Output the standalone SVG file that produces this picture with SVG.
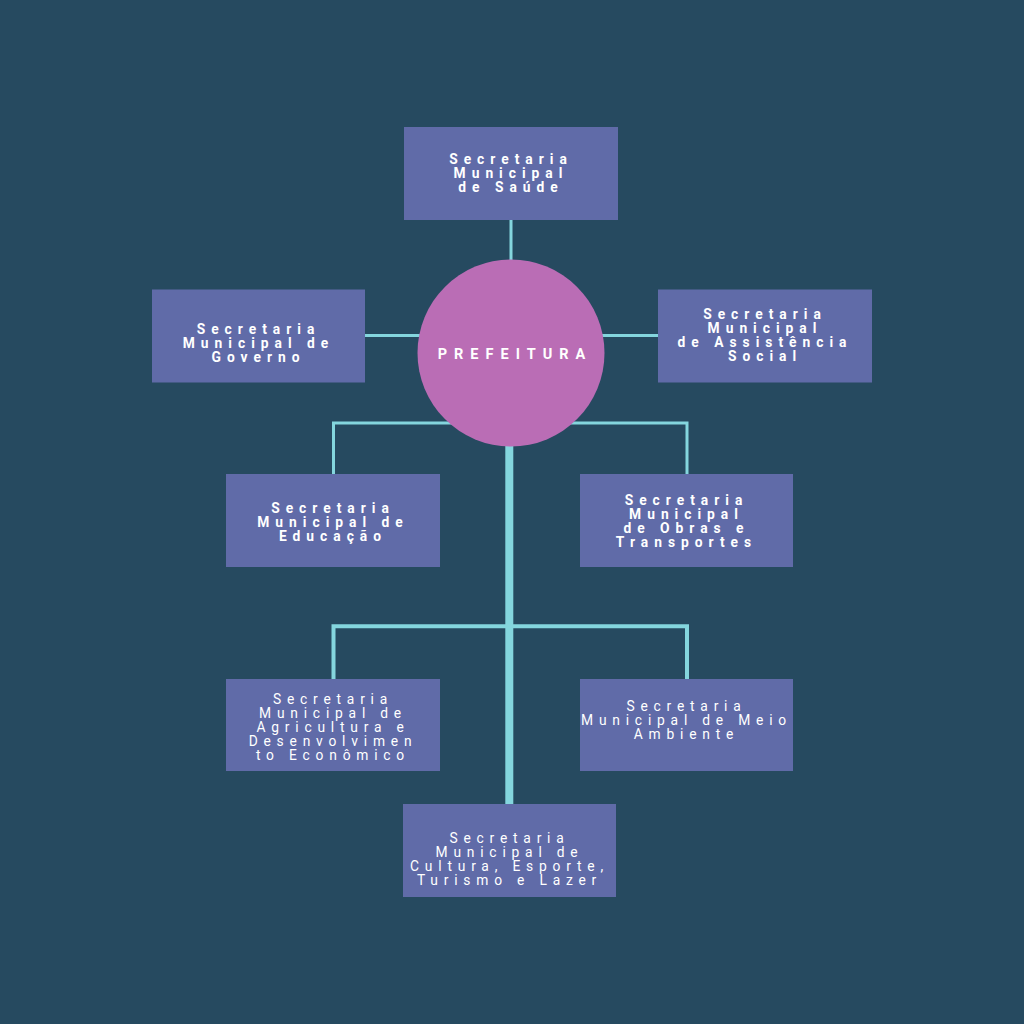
<svg xmlns="http://www.w3.org/2000/svg" width="1024" height="1024" viewBox="0 0 1024 1024">
  <style>
    .box { fill: #606BA8; }
    .ln { stroke: #84D6DE; fill: none; }
    .b { font-family: Roboto, "Liberation Sans", sans-serif; font-weight: 700; font-size: 13.8px; letter-spacing: 6px; fill: #FFFFFF; text-anchor: middle; }
    .l { font-family: Roboto, "Liberation Sans", sans-serif; font-weight: 400; font-size: 13.8px; letter-spacing: 5.8px; fill: #FFFFFF; text-anchor: middle; }
    .c { font-family: Roboto, "Liberation Sans", sans-serif; font-weight: 700; font-size: 14.5px; letter-spacing: 7px; fill: #FFFFFF; text-anchor: middle; }
  </style>
  <rect width="1024" height="1024" fill="#264A60"/>
  <g id="connectors">
    <line class="ln" x1="511" y1="219" x2="511" y2="262" stroke-width="3"/>
    <line class="ln" x1="365" y1="335.5" x2="420" y2="335.5" stroke-width="3"/>
    <line class="ln" x1="602" y1="335.5" x2="658" y2="335.5" stroke-width="3"/>
    <polyline class="ln" points="333.5,474 333.5,423 460,423" stroke-width="3"/>
    <polyline class="ln" points="560,423 687,423 687,474" stroke-width="3"/>
    <line class="ln" x1="509.3" y1="440" x2="509.3" y2="804" stroke-width="8"/>
    <polyline class="ln" points="333.5,679 333.5,626.3 687,626.3 687,679" stroke-width="4"/>
  </g>
  <g id="prefeitura">
    <circle cx="511" cy="353" r="93.5" fill="#BA6DB5"/>
    <text class="c" x="515" y="359">PREFEITURA</text>
  </g>
  <g id="saude">
    <rect class="box" x="404" y="127" width="214" height="93"/>
    <text class="b" x="511" y="164">Secretaria</text>
    <text class="b" x="511" y="178">Municipal</text>
    <text class="b" x="511" y="192">de Saúde</text>
  </g>
  <g id="governo">
    <rect class="box" x="152" y="289.5" width="213" height="93"/>
    <text class="b" x="258.5" y="334">Secretaria</text>
    <text class="b" x="258.5" y="348">Municipal de</text>
    <text class="b" x="258.5" y="362">Governo</text>
  </g>
  <g id="assistencia">
    <rect class="box" x="658" y="289.5" width="214" height="93"/>
    <text class="b" x="765" y="319">Secretaria</text>
    <text class="b" x="765" y="333">Municipal</text>
    <text class="b" x="765" y="347">de Assistência</text>
    <text class="b" x="765" y="361">Social</text>
  </g>
  <g id="educacao">
    <rect class="box" x="226" y="474" width="214" height="93"/>
    <text class="b" x="333" y="513">Secretaria</text>
    <text class="b" x="333" y="527">Municipal de</text>
    <text class="b" x="333" y="541">Educação</text>
  </g>
  <g id="obras">
    <rect class="box" x="580" y="474" width="213" height="93"/>
    <text class="b" x="686.5" y="505">Secretaria</text>
    <text class="b" x="686.5" y="519">Municipal</text>
    <text class="b" x="686.5" y="533">de Obras e</text>
    <text class="b" x="686.5" y="547">Transportes</text>
  </g>
  <g id="agricultura">
    <rect class="box" x="226" y="679" width="214" height="92"/>
    <text class="l" x="333" y="704">Secretaria</text>
    <text class="l" x="333" y="718">Municipal de</text>
    <text class="l" x="333" y="732">Agricultura e</text>
    <text class="l" x="333" y="746">Desenvolvimen</text>
    <text class="l" x="333" y="760">to Econômico</text>
  </g>
  <g id="meio-ambiente">
    <rect class="box" x="580" y="679" width="213" height="92"/>
    <text class="l" x="686.5" y="711">Secretaria</text>
    <text class="l" x="686.5" y="725">Municipal de Meio</text>
    <text class="l" x="686.5" y="739">Ambiente</text>
  </g>
  <g id="cultura">
    <rect class="box" x="403" y="804" width="213" height="93"/>
    <text class="l" x="509.5" y="843">Secretaria</text>
    <text class="l" x="509.5" y="857">Municipal de</text>
    <text class="l" x="509.5" y="871">Cultura, Esporte,</text>
    <text class="l" x="509.5" y="885">Turismo e Lazer</text>
  </g>
</svg>
